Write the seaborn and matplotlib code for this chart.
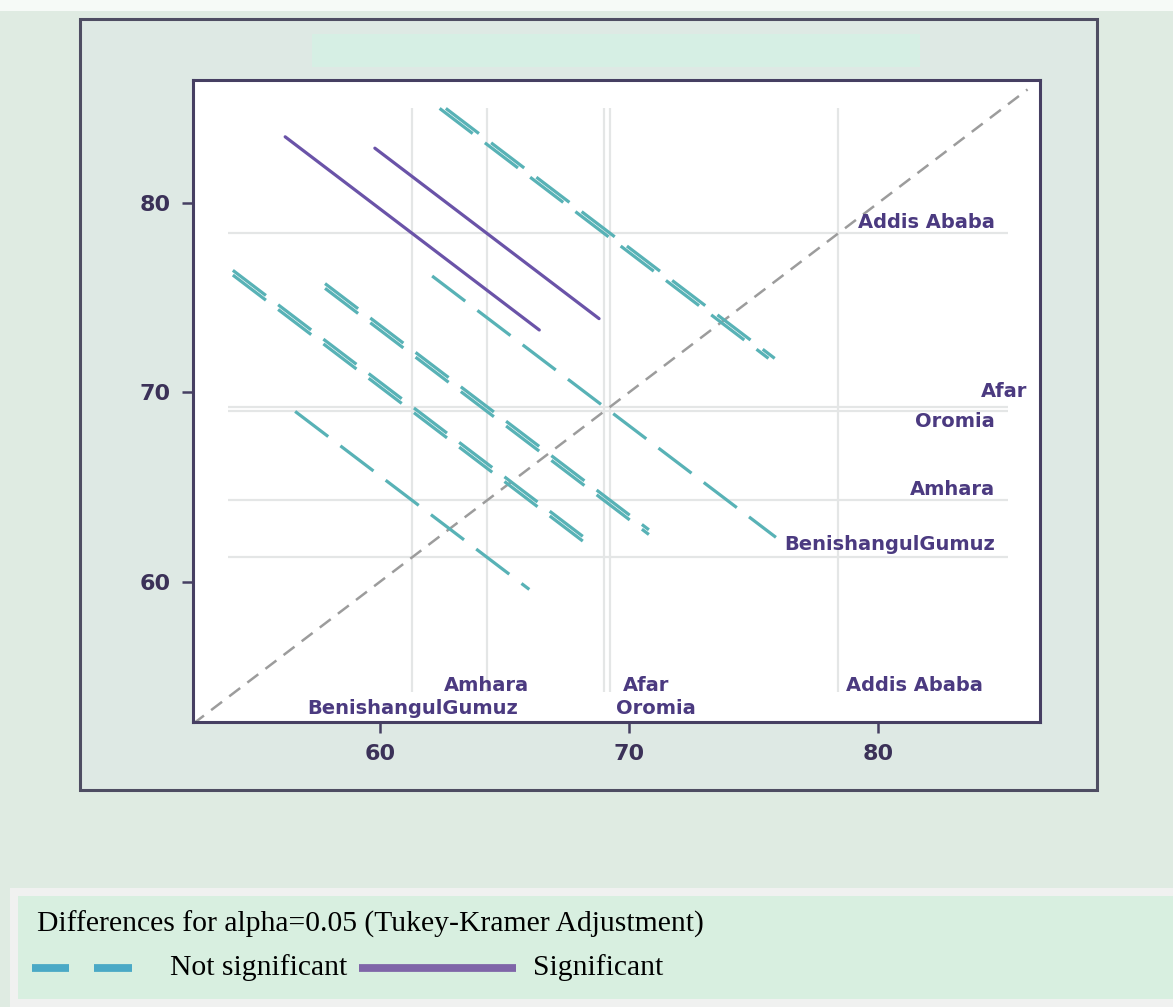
import numpy as np
import pandas as pd
import matplotlib
matplotlib.use("Agg")
import matplotlib.pyplot as plt
from matplotlib.lines import Line2D
from matplotlib.patches import Rectangle
import seaborn as sns

# LS-means of the response by region
regions = ["Addis Ababa", "Afar", "Oromia", "Amhara", "BenishangulGumuz"]
lsmeans = [78.4, 69.25, 69.0, 64.3, 61.3]

# Pairwise comparisons with the half-width of the Tukey-Kramer adjusted CI of each difference
pair_first = ["Addis Ababa", "Addis Ababa", "Addis Ababa", "Addis Ababa", "Afar",
              "Afar", "Afar", "Oromia", "Oromia", "Amhara"]
pair_second = ["Afar", "Oromia", "Amhara", "BenishangulGumuz", "Oromia",
               "Amhara", "BenishangulGumuz", "Amhara", "BenishangulGumuz", "BenishangulGumuz"]
ci_halfwidth = [13.2, 13.2, 9.0, 10.2, 13.8, 13.0, 14.4, 13.0, 14.4, 9.4]

ticks = [60, 70, 80]

# ---------------------------------------------------------------------------
mean_of = dict(zip(regions, lsmeans))
rows = []
for k, (a, b, hw) in enumerate(zip(pair_first, pair_second, ci_halfwidth)):
    lo, hi = sorted([mean_of[a], mean_of[b]])
    sig = "Significant" if abs(hi - lo) > hw else "Not significant"
    h = hw / 2.0
    rows.append(dict(pair=k, x=lo - h, y=hi + h, sig=sig))
    rows.append(dict(pair=k, x=lo + h, y=hi - h, sig=sig))
segs = pd.DataFrame(rows)

W, H = 1173, 1007
sns.set_theme(style="white")
plt.rcParams["font.family"] = ["DejaVu Sans"]

fig = plt.figure(figsize=(W / 100, H / 100), dpi=100)
fig.patch.set_facecolor("#dfebe2")


def fx(px):
    return px / W


def fy(py):
    return 1 - py / H


def frect(x0, y0, x1, y1, **kw):
    fig.add_artist(Rectangle((fx(x0), fy(y1)), fx(x1) - fx(x0), fy(y0) - fy(y1),
                             transform=fig.transFigure, zorder=-10, **kw))


# page strips, outer graph frame and the empty title band
frect(0, 0, W, 11, facecolor="#f6faf7", edgecolor="none")
frect(80, 19, 1097, 790, facecolor="#dee9e4", edgecolor="#4e4d62", linewidth=2.2)
frect(312, 34, 920, 67, facecolor="#d6efe4", edgecolor="none")

# legend panel
frect(10, 888, W, H, facecolor="#f0f1f0", edgecolor="none")
frect(18, 896, W, 999, facecolor="#d8efe0", edgecolor="none")

ax = fig.add_axes([fx(193), fy(722), fx(1040) - fx(193), fy(80) - fy(722)])
ax.set_zorder(5)
ax.set_facecolor("white")

lim = (52.5, 86.5)
ref_lo, ref_hi = 53.9, 85.2
grid_c = "#e4e6e6"
ax.hlines(lsmeans, ref_lo, ref_hi, colors=grid_c, linewidth=1.6, zorder=1)
ax.vlines(lsmeans, ref_lo + 0.3, ref_hi - 0.2, colors=grid_c, linewidth=1.6, zorder=1)

# identity line
ax.plot([lim[0], 86.0], [lim[0], 86.0], color="#9c9c9c", linewidth=1.8,
        linestyle=(0, (5.5, 3.6)), zorder=2)

cyan = "#58b2b6"
purple = "#6a53a8"
sns.lineplot(data=segs, x="x", y="y", units="pair", estimator=None, sort=False,
             hue="sig", style="sig",
             palette={"Not significant": cyan, "Significant": purple},
             dashes={"Not significant": (13.0, 4.8), "Significant": ""},
             linewidth=2.3, legend=False, ax=ax, zorder=3)

ax.set_xlim(*lim)
ax.set_ylim(52.6, 86.5)
ax.set_xticks(ticks)
ax.set_yticks(ticks)
ax.set_xlabel("")
ax.set_ylabel("")
spine_c = "#463f62"
for s in ax.spines.values():
    s.set_visible(True)
    s.set_color(spine_c)
    s.set_linewidth(2.2)
tick_c = "#3b3158"
ax.tick_params(axis="both", direction="out", length=8, width=1.8, color=spine_c,
               labelsize=16, labelcolor=tick_c, bottom=True, left=True)
ax.tick_params(axis="x", pad=8)
ax.tick_params(axis="y", pad=8)
for t in ax.get_xticklabels() + ax.get_yticklabels():
    t.set_fontweight("bold")

lab_c = "#4b3a80"
lab_kw = dict(fontsize=14, fontweight="bold", color=lab_c, zorder=4)

# region labels along the right edge (y axis)
right_x = [84.7, 86.0, 84.7, 84.7, 84.7]
right_dy = [0.6, 0.8, -0.55, 0.6, 0.65]
for name, m, xr, dy in zip(regions, lsmeans, right_x, right_dy):
    ax.text(xr, m + dy, name, ha="right", va="center", **lab_kw)

# region labels along the bottom edge (x axis)
bottom_ha = ["left", "left", "left", "center", "center"]
bottom_dx = [0.3, 0.5, 0.5, 0.0, 0.0]
bottom_y = [54.55, 54.55, 53.3, 54.55, 53.3]
for name, m, ha, dx, yb in zip(regions, lsmeans, bottom_ha, bottom_dx, bottom_y):
    ax.text(m + dx, yb, name, ha=ha, va="center", **lab_kw)

# legend
serif = ["Liberation Serif", "DejaVu Serif"]
fig.text(fx(37), fy(932), "Differences for alpha=0.05 (Tukey-Kramer Adjustment)",
         family=serif, fontsize=21.3, color="black", va="baseline", ha="left")
leg_y = fy(968)
for x0, x1 in [(32, 69), (94, 132)]:
    fig.add_artist(Line2D([fx(x0), fx(x1)], [leg_y, leg_y], transform=fig.transFigure,
                          color="#4aa9c6", linewidth=5.6, solid_capstyle="butt"))
fig.text(fx(170), fy(975), "Not significant", family=serif, fontsize=21.3,
         color="black", va="baseline", ha="left")
fig.add_artist(Line2D([fx(359), fx(516)], [leg_y, leg_y], transform=fig.transFigure,
                      color="#7f65a8", linewidth=5.6, solid_capstyle="butt"))
fig.text(fx(533), fy(975), "Significant", family=serif, fontsize=21.3,
         color="black", va="baseline", ha="left")

fig.savefig("out.png", dpi=100, facecolor=fig.get_facecolor())
